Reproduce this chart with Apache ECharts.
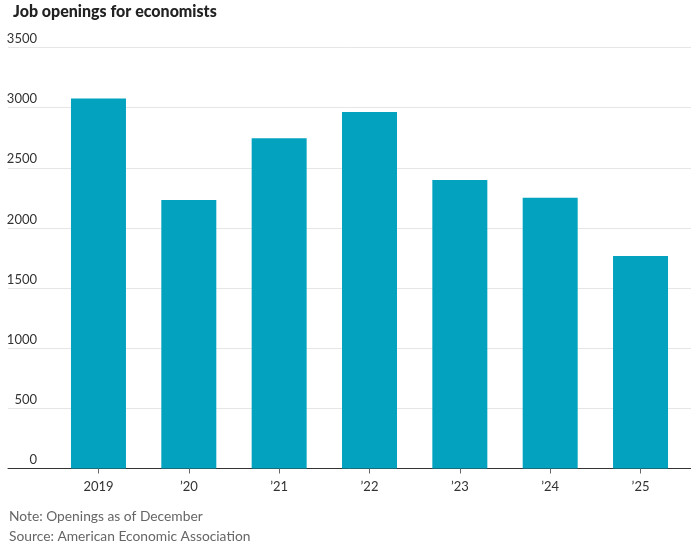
<!DOCTYPE html>
<html>
<head>
<meta charset="utf-8">
<script src="https://cdn.jsdelivr.net/npm/echarts@6/dist/echarts.min.js"></script>
<style>
html,body{margin:0;padding:0;background:#fff;}
#c{width:691px;height:549px;}
</style>
</head>
<body>
<div id="c"></div>
<script>
const categories = ['2019', '\u201920', '\u201921', '\u201922', '\u201923', '\u201924', '\u201925'];
const openings = [3075, 2232, 2745, 2963, 2398, 2251, 1766];
const yTicks = [0, 500, 1000, 1500, 2000, 2500, 3000, 3500];

const FONT = 'Lato';
const chart = echarts.init(document.getElementById('c'), null, {renderer: 'canvas'});
const yMax = yTicks[yTicks.length - 1];
const yStep = yTicks[1] - yTicks[0];

chart.setOption({
  animation: false,
  textStyle: {fontFamily: FONT},
  title: {
    text: 'Job openings for economists',
    left: 8, top: -1,
    textStyle: {fontFamily: FONT, fontWeight: 900, fontSize: 16, color: '#222'}
  },
  graphic: [
    {type: 'text', left: 9, top: 510, style: {text: 'Note: Openings as of December', font: '13.8px ' + FONT, fill: '#666'}},
    {type: 'text', left: 9, top: 530, style: {text: 'Source: American Economic Association', font: '13.8px ' + FONT, fill: '#666'}}
  ],
  grid: [
    {left: 8, right: 0, top: 47.5, bottom: 80.5},
    {left: 53.3, right: 5.3, top: 47.5, bottom: 80.5}
  ],
  xAxis: [
    {gridIndex: 0, type: 'value', min: 0, max: 1, show: true,
     axisLine: {show: true, onZero: false, lineStyle: {color: '#333', width: 1}},
     axisTick: {show: false}, axisLabel: {show: false}, splitLine: {show: false}},
    {gridIndex: 1, type: 'category', data: categories,
     axisLine: {show: false},
     axisTick: {show: true, alignWithLabel: true, length: 5, lineStyle: {color: '#666'}},
     axisLabel: {margin: 12, fontSize: 13, color: '#333', fontFamily: FONT}}
  ],
  yAxis: [
    {gridIndex: 0, type: 'value', min: 0, max: yMax, interval: yStep,
     axisLine: {show: false}, axisTick: {show: false},
     axisLabel: {inside: true, align: 'right', verticalAlign: 'bottom', margin: 29,
                 padding: [0, 0, 2, 0], fontSize: 13, color: '#333', fontFamily: FONT,
                 showMaxLabel: true, formatter: v => String(v)},
     splitLine: {show: true, lineStyle: {color: '#e6e6e6', width: 1}}},
    {gridIndex: 1, type: 'value', min: 0, max: yMax, interval: yStep, show: false}
  ],
  series: [{
    type: 'bar', xAxisIndex: 1, yAxisIndex: 1,
    data: openings, barWidth: 55,
    itemStyle: {color: '#03a3bf'},
    z: 3
  }]
});
</script>
</body>
</html>
